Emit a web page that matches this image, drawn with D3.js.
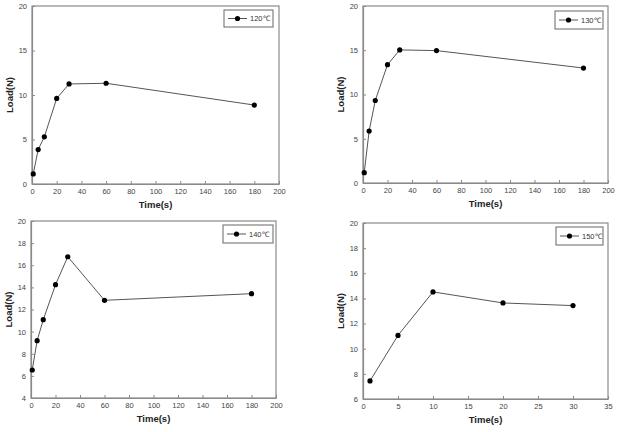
<!DOCTYPE html>
<html><head><meta charset="utf-8">
<script src="https://cdn.jsdelivr.net/npm/d3@7"></script>
<style>
body{margin:0;background:#fff;}
svg{display:block;}
text{font-family:"Liberation Sans",Arial,sans-serif;}
</style></head>
<body><svg id="c" width="620" height="432"></svg>
<script>
// Data
const time120 = [1, 5, 10, 20, 30, 60, 180];
const load120 = [1.13, 3.87, 5.3, 9.62, 11.24, 11.32, 8.87];
const time130 = [1, 5, 10, 20, 30, 60, 180];
const load130 = [1.17, 5.87, 9.32, 13.37, 15.04, 14.96, 12.99];
const time140 = [1, 5, 10, 20, 30, 60, 180];
const load140 = [6.53, 9.18, 11.08, 14.24, 16.77, 12.83, 13.43];
const time150 = [1, 5, 10, 20, 30];
const load150 = [7.44, 11.06, 14.52, 13.64, 13.43];
const legendLabels = ["120℃", "130℃", "140℃", "150℃"];
const xTicksA = [0, 20, 40, 60, 80, 100, 120, 140, 160, 180, 200];
const xTicksB = [0, 5, 10, 15, 20, 25, 30, 35];
const yTicks120 = [0, 5, 10, 15, 20];
const yTicks140 = [4, 6, 8, 10, 12, 14, 16, 18, 20];
const yTicks150 = [6, 8, 10, 12, 14, 16, 18, 20];
const xTitle = "Time(s)";
const yTitle = "Load(N)";

const panels = [
  {t: time120, v: load120, label: legendLabels[0], xd: [0, 200], yd: [0, 20], xt: xTicksA, yt: yTicks120,
   box: [32, 6, 279, 184], leg: [224, 10, 273, 27]},
  {t: time130, v: load130, label: legendLabels[1], xd: [0, 200], yd: [0, 20], xt: xTicksA, yt: yTicks120,
   box: [363, 6, 608, 183], leg: [555, 11, 603, 29]},
  {t: time140, v: load140, label: legendLabels[2], xd: [0, 200], yd: [4, 20], xt: xTicksA, yt: yTicks140,
   box: [31, 221, 276, 398], leg: [223, 225, 273, 243]},
  {t: time150, v: load150, label: legendLabels[3], xd: [0, 35], yd: [6, 20], xt: xTicksB, yt: yTicks150,
   box: [363, 223, 608, 399], leg: [556, 227, 603, 245]}
];

const svg = d3.select("#c");
const axisCol = "#8a8a8a";

panels.forEach(p => {
  const [x0, y0, x1, y1] = p.box;
  const x = d3.scaleLinear().domain(p.xd).range([x0, x1]);
  const y = d3.scaleLinear().domain(p.yd).range([y1, y0]);
  const g = svg.append("g");

  // frame
  g.append("rect").attr("x", x0).attr("y", y0).attr("width", x1 - x0).attr("height", y1 - y0)
    .attr("fill", "none").attr("stroke", axisCol).attr("stroke-width", 1.2);

  const xa = g.append("g").attr("transform", `translate(0,${y1})`)
    .call(d3.axisBottom(x).tickValues(p.xt).tickSizeInner(-3).tickSizeOuter(0).tickPadding(5));
  const ya = g.append("g").attr("transform", `translate(${x0},0)`)
    .call(d3.axisLeft(y).tickValues(p.yt).tickSizeInner(-3).tickSizeOuter(0).tickPadding(5));
  [xa, ya].forEach(a => {
    a.select(".domain").attr("stroke", axisCol).attr("stroke-width", 1.2);
    a.selectAll(".tick line").attr("stroke", axisCol);
    a.selectAll(".tick text").attr("fill", "#444").attr("font-size", 7.5)
      .attr("font-family", "'Liberation Sans',Arial,sans-serif");
  });

  // titles
  g.append("text").attr("x", (x0 + x1) / 2).attr("y", y1 + 24).attr("text-anchor", "middle")
    .attr("font-size", 9.5).attr("font-weight", "bold").attr("fill", "#222").text(xTitle);
  g.append("text").attr("transform", `translate(${x0 - 19},${(y0 + y1) / 2}) rotate(-90)`)
    .attr("text-anchor", "middle").attr("font-size", 9.5).attr("font-weight", "bold").attr("fill", "#222").text(yTitle);

  const pts = p.t.map((d, i) => [d, p.v[i]]);
  const line = d3.line().x(d => x(d[0])).y(d => y(d[1]));
  g.append("path").datum(pts).attr("d", line).attr("fill", "none").attr("stroke", "#555").attr("stroke-width", 1);
  g.selectAll("circle.pt").data(pts).join("circle").attr("class", "pt")
    .attr("cx", d => x(d[0])).attr("cy", d => y(d[1])).attr("r", 2.6).attr("fill", "#000");

  // legend
  const [lx0, ly0, lx1, ly1] = p.leg;
  const lg = g.append("g");
  lg.append("rect").attr("x", lx0).attr("y", ly0).attr("width", lx1 - lx0).attr("height", ly1 - ly0)
    .attr("fill", "#fff").attr("stroke", "#666").attr("stroke-width", 1);
  const cy = (ly0 + ly1) / 2;
  lg.append("line").attr("x1", lx0 + 4).attr("x2", lx0 + 23).attr("y1", cy).attr("y2", cy)
    .attr("stroke", "#555").attr("stroke-width", 1);
  lg.append("circle").attr("cx", lx0 + 13.5).attr("cy", cy).attr("r", 2.6).attr("fill", "#000");
  lg.append("text").attr("x", lx0 + 26).attr("y", cy + 2.7).attr("font-size", 7.5).attr("fill", "#333").text(p.label);
});
</script></body></html>
